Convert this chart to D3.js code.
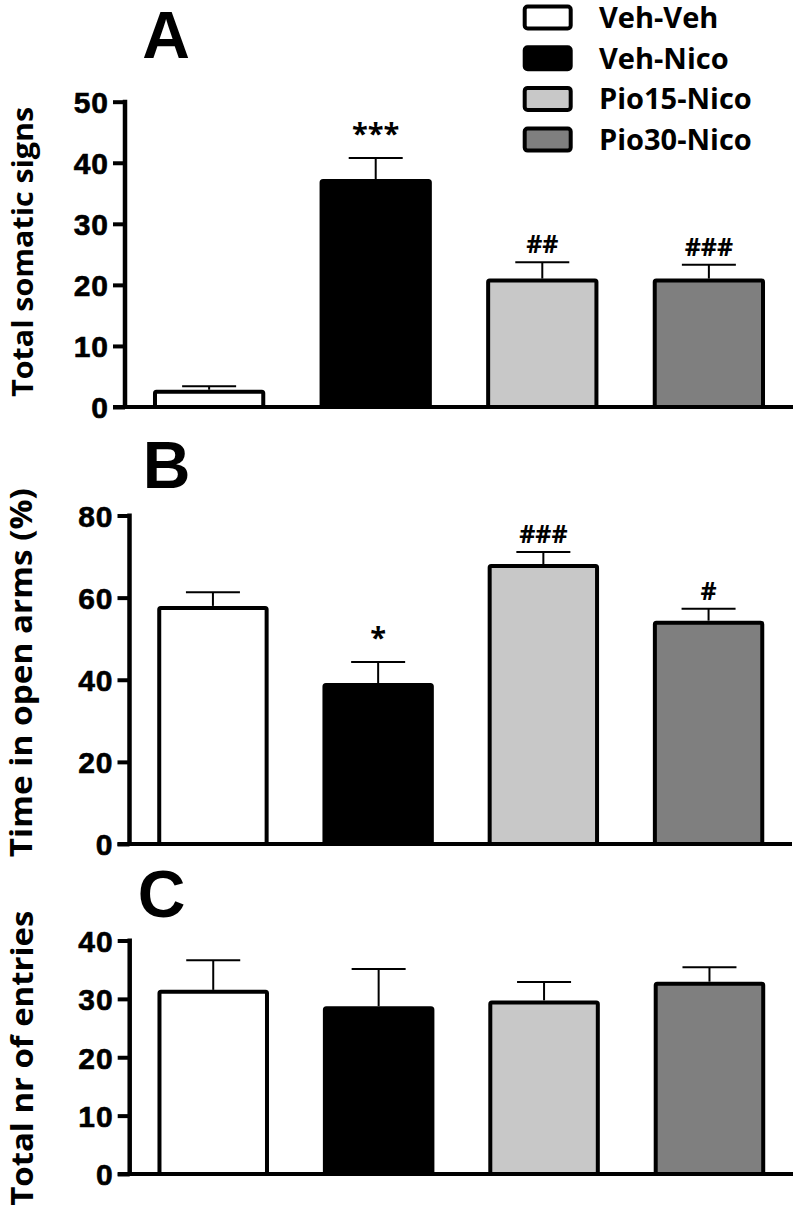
<!DOCTYPE html>
<html>
<head>
<meta charset="utf-8">
<script src="https://cdn.jsdelivr.net/npm/d3@7"></script>
<style>
  html, body { margin: 0; padding: 0; background: #fff; }
  svg { display: block; }
</style>
</head>
<body>
<script>
// ---------- DATA ----------
const groups = ["Veh-Veh", "Veh-Nico", "Pio15-Nico", "Pio30-Nico"];
const groupFills = ["#ffffff", "#000000", "#c8c8c8", "#7f7f7f"];

const somaticMean = [2.5, 37.0, 20.7, 20.7];
const somaticSem  = [0.9, 3.8, 3.0, 2.6];
const somaticSig  = ["", "***", "##", "###"];
const somaticTicks = [0, 10, 20, 30, 40, 50];

const openArmsMean = [57.5, 38.7, 67.7, 53.9];
const openArmsSem  = [3.8, 5.6, 3.4, 3.4];
const openArmsSig  = ["", "*", "###", "#"];
const openArmsTicks = [0, 20, 40, 60, 80];

const entriesMean = [31.2, 28.4, 29.4, 32.6];
const entriesSem  = [5.4, 6.7, 3.5, 2.8];
const entriesSig  = ["", "", "", ""];
const entriesTicks = [0, 10, 20, 30, 40];

const panelLetters = ["A", "B", "C"];
const yTitles = ["Total somatic signs", "Time in open arms (%)", "Total nr of entries"];

// ---------- LAYOUT ----------
const W = 800, H = 1211;
const svg = d3.select("body").append("svg").attr("width", W).attr("height", H);

const panels = [
  { letter: panelLetters[0], title: yTitles[0], mean: somaticMean, sem: somaticSem, sig: somaticSig, ticks: somaticTicks,
    axisX: 125, yBottom: 407, yTop: 101.7, right: 793, letterX: 166, letterY: 58, titleX: 33, titleLen: 290, titleShift: -2.5, titleSize: 28 },
  { letter: panelLetters[1], title: yTitles[1], mean: openArmsMean, sem: openArmsSem, sig: openArmsSig, ticks: openArmsTicks,
    axisX: 129.5, yBottom: 844, yTop: 515.5, right: 792, letterX: 166.5, letterY: 488, titleX: 32, titleLen: 369, titleShift: -7, titleSize: 30 },
  { letter: panelLetters[2], title: yTitles[2], mean: entriesMean, sem: entriesSem, sig: entriesSig, ticks: entriesTicks,
    axisX: 129.7, yBottom: 1174, yTop: 940.5, right: 793, letterX: 161.5, letterY: 917, titleX: 33, titleLen: 295, titleShift: 1, titleSize: 30 }
];

const labelFont = "'Open Sans', 'DejaVu Sans', sans-serif";
const numFont = "'Liberation Sans', Arial, sans-serif";

panels.forEach(p => {
  const g = svg.append("g");
  const tickMax = d3.max(p.ticks);
  const y = d3.scaleLinear().domain([0, tickMax]).range([p.yBottom, p.yTop]);
  const x = d3.scaleBand().domain(groups).range([p.axisX, p.right])
    .paddingInner(0.35).paddingOuter(0.18);

  // bars
  g.selectAll("rect.bar").data(groups).join("rect")
    .attr("class", "bar")
    .attr("x", d => x(d))
    .attr("width", x.bandwidth())
    .attr("y", (d, i) => y(p.mean[i]))
    .attr("height", (d, i) => y(0) - y(p.mean[i]))
    .attr("rx", 1.5)
    .attr("fill", (d, i) => groupFills[i])
    .attr("stroke", "#000").attr("stroke-width", 4);

  // error bars (upper only)
  const capW = 54;
  groups.forEach((d, i) => {
    const cx = x(d) + x.bandwidth() / 2;
    const yTopErr = y(p.mean[i] + p.sem[i]);
    g.append("line").attr("x1", cx).attr("x2", cx)
      .attr("y1", y(p.mean[i]) - 2).attr("y2", yTopErr)
      .attr("stroke", "#000").attr("stroke-width", 2);
    g.append("line").attr("x1", cx - capW / 2).attr("x2", cx + capW / 2)
      .attr("y1", yTopErr).attr("y2", yTopErr)
      .attr("stroke", "#000").attr("stroke-width", 2);
    const s = p.sig[i];
    if (s) {
      const isStar = s[0] === "*";
      g.append("text")
        .attr("x", cx)
        .attr("y", yTopErr - (isStar ? 14 : 9))
        .attr("text-anchor", "middle")
        .attr("font-family", labelFont)
        .attr("font-weight", 700)
        .attr("font-size", isStar ? 29 : 25)
        .attr("fill", "#000")
        .text(s);
    }
  });

  // baseline
  g.append("line")
    .attr("x1", p.axisX - 12).attr("x2", p.right)
    .attr("y1", y(0)).attr("y2", y(0))
    .attr("stroke", "#000").attr("stroke-width", 4);

  // y axis
  const ax = g.append("g").attr("transform", `translate(${p.axisX},0)`)
    .call(d3.axisLeft(y).tickValues(p.ticks).tickSize(12).tickSizeOuter(0).tickPadding(4));
  ax.select(".domain").attr("stroke", "#000").attr("stroke-width", 4.5)
    .attr("d", `M0,${y(tickMax) - 2}V${y(0)}`);
  ax.selectAll(".tick line").attr("stroke", "#000").attr("stroke-width", 4);
  ax.selectAll(".tick text")
    .attr("font-family", numFont).attr("font-weight", 700)
    .attr("font-size", 30).attr("fill", "#000")
    .attr("letter-spacing", 1)
    .attr("stroke", "#000").attr("stroke-width", 0.6)
    .attr("dy", "0.36em");

  // y title
  g.append("text")
    .attr("transform", `translate(${p.titleX},${(y(0) + y(tickMax)) / 2 + p.titleShift}) rotate(-90)`)
    .attr("text-anchor", "middle")
    .attr("font-family", labelFont).attr("font-weight", 700)
    .attr("font-size", p.titleSize)
    .attr("textLength", p.titleLen).attr("lengthAdjust", "spacingAndGlyphs")
    .attr("fill", "#000")
    .text(p.title);

  // panel letter
  g.append("text")
    .attr("x", p.letterX).attr("y", p.letterY)
    .attr("text-anchor", "middle")
    .attr("font-family", numFont).attr("font-weight", 700)
    .attr("font-size", 66).attr("fill", "#000")
    .text(p.letter);
});

// ---------- LEGEND ----------
const leg = svg.append("g");
groups.forEach((gname, i) => {
  const cy = 17.5 + i * 40.7;
  leg.append("rect")
    .attr("x", 524.7).attr("y", cy - 11)
    .attr("width", 46).attr("height", 22)
    .attr("rx", 3)
    .attr("fill", groupFills[i]).attr("stroke", "#000").attr("stroke-width", 4);
  leg.append("text")
    .attr("x", 599).attr("y", cy + 10.5)
    .attr("font-family", labelFont).attr("font-weight", 700)
    .attr("font-size", 29).attr("fill", "#000")
    .text(gname);
});
</script>
</body>
</html>
